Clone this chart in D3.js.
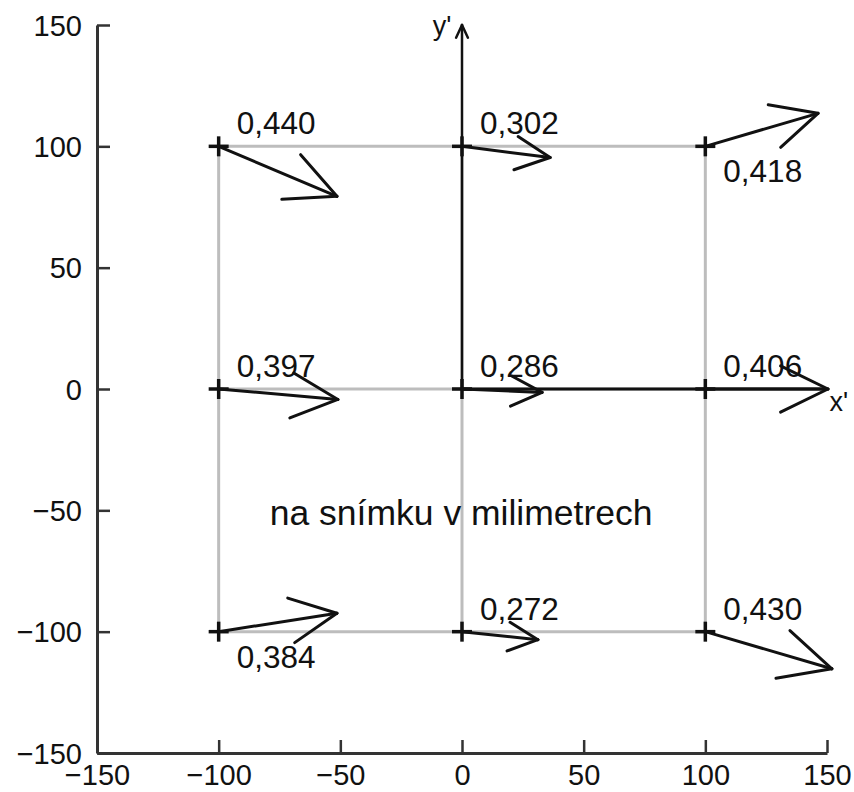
<!DOCTYPE html>
<html>
<head>
<meta charset="utf-8">
<script src="https://cdn.jsdelivr.net/npm/d3@7"></script>
<style>
  html, body { margin: 0; padding: 0; background: #fff; }
  text { font-family: "Liberation Sans", Arial, sans-serif; fill: #111; }
</style>
</head>
<body>
<svg id="chart" width="854" height="792"></svg>
<script>
// ---- data ----
const gridX = [-100, 0, 100];
const gridY = [-100, 0, 100];
const pointsX = [-100, 0, 100, -100, 0, 100, -100, 0, 100];
const pointsY = [100, 100, 100, 0, 0, 0, -100, -100, -100];
const vecU = [48.6, 36.2, 46.3, 49.0, 32.9, 50.4, 48.6, 31.2, 52.0];
const vecV = [-20.6, -4.6, 13.6, -4.3, -1.4, 0.0, 7.6, -3.3, -15.3];
const magnitudes = ["0,440", "0,302", "0,418", "0,397", "0,286", "0,406", "0,384", "0,272", "0,430"];
const labelSide = ["above", "above", "below", "above", "above", "above", "below", "above", "above"];
const tickValues = [-150, -100, -50, 0, 50, 100, 150];
const caption = "na snímku v milimetrech";

// ---- layout ----
const svg = d3.select("#chart");
const x = d3.scaleLinear().domain([-150, 150]).range([97, 827]);
const y = d3.scaleLinear().domain([-150, 150]).range([753, 25]);
const fmt = v => (v < 0 ? "\u2212" + Math.abs(v) : String(v));

// grey grid lines
const grid = svg.append("g").attr("stroke", "#bdbdbd").attr("stroke-width", 3);
gridX.forEach(gx => grid.append("line")
  .attr("x1", x(gx)).attr("x2", x(gx))
  .attr("y1", y(d3.max(gridY))).attr("y2", y(d3.min(gridY))));
gridY.forEach(gy => grid.append("line")
  .attr("y1", y(gy)).attr("y2", y(gy))
  .attr("x1", x(d3.min(gridX))).attr("x2", x(d3.max(gridX))));

// axes
const xAxis = d3.axisBottom(x).tickValues(tickValues).tickFormat(fmt).tickSizeInner(-13).tickSizeOuter(0).tickPadding(11);
const yAxis = d3.axisLeft(y).tickValues(tickValues).tickFormat(fmt).tickSizeInner(-13).tickSizeOuter(0).tickPadding(15);
const gx = svg.append("g").attr("transform", `translate(0,${y(-150)})`).call(xAxis);
const gy = svg.append("g").attr("transform", `translate(${x(-150)},0)`).call(yAxis);
[gx, gy].forEach(g => {
  g.select(".domain").attr("stroke", "#333").attr("stroke-width", 3);
  g.selectAll(".tick line").attr("stroke", "#333").attr("stroke-width", 2.5);
  g.selectAll(".tick text").attr("font-size", 29).attr("fill", "#111")
    .attr("font-family", "'Liberation Sans', Arial, sans-serif");
});
gx.selectAll(".tick text").attr("dy", "0.71em");
gy.selectAll(".tick text").attr("dy", "0.35em");

// arrow helper (open arrowhead)
function arrow(g, x0, y0, x1, y1, headLen, angleDeg, width) {
  g.append("line").attr("x1", x0).attr("y1", y0).attr("x2", x1).attr("y2", y1)
    .attr("stroke", "#111").attr("stroke-width", width).attr("stroke-linecap", "round");
  const ang = Math.atan2(y0 - y1, x0 - x1);
  const a = angleDeg * Math.PI / 180;
  [ang + a, ang - a].forEach(t => {
    g.append("line").attr("x1", x1).attr("y1", y1)
      .attr("x2", x1 + headLen * Math.cos(t)).attr("y2", y1 + headLen * Math.sin(t))
      .attr("stroke", "#111").attr("stroke-width", width).attr("stroke-linecap", "round");
  });
}

// local x', y' axes
const ax = svg.append("g");
ax.append("line").attr("x1", x(0)).attr("y1", y(0)).attr("x2", x(150)).attr("y2", y(0))
  .attr("stroke", "#111").attr("stroke-width", 3);
arrow(ax, x(0), y(0), x(0), y(150), 14, 25, 2.5);
svg.append("text").attr("x", x(-12)).attr("y", y(146)).attr("font-size", 27).text("y'");
svg.append("text").attr("x", x(151)).attr("y", y(-9)).attr("font-size", 27).text("x'");

// caption
svg.append("text").attr("x", x(-79)).attr("y", y(-56)).attr("font-size", 35.5).text(caption);

// crosses
const cr = svg.append("g").attr("stroke", "#111").attr("stroke-width", 3.5);
pointsX.forEach((px, i) => {
  const cx = x(px), cy = y(pointsY[i]);
  cr.append("line").attr("x1", cx - 10).attr("x2", cx + 10).attr("y1", cy).attr("y2", cy);
  cr.append("line").attr("x1", cx).attr("x2", cx).attr("y1", cy - 10).attr("y2", cy + 10);
});

// vectors
const vg = svg.append("g");
pointsX.forEach((px, i) => {
  const x0 = x(px), y0 = y(pointsY[i]);
  const x1 = x(px + vecU[i]), y1 = y(pointsY[i] + vecV[i]);
  const L = Math.hypot(x1 - x0, y1 - y0);
  arrow(vg, x0, y0, x1, y1, 0.43 * L, 26, 3);
});

// magnitude labels
pointsX.forEach((px, i) => {
  const above = labelSide[i] === "above";
  svg.append("text")
    .attr("x", x(px) + 18)
    .attr("y", y(pointsY[i]) + (above ? -12 : 36))
    .attr("font-size", 31.5)
    .text(magnitudes[i]);
});
</script>
</body>
</html>
